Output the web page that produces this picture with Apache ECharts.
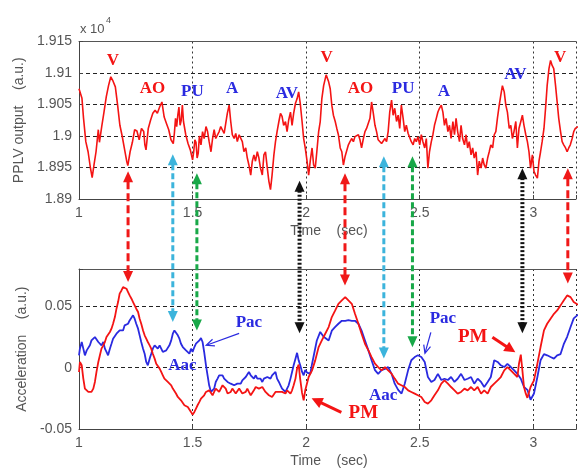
<!DOCTYPE html>
<html><head><meta charset="utf-8">
<script src="https://cdn.jsdelivr.net/npm/echarts@6/dist/echarts.min.js"></script>
<style>html,body{margin:0;padding:0;background:#fff}#c{width:579px;height:468px}</style>
</head><body><div id="c"></div>
<script>
// ---------- data ----------
const xTicks = [1, 1.5, 2, 2.5, 3];
const topTicks = [1.89, 1.895, 1.9, 1.905, 1.91, 1.915];
const accTicks = [-0.05, 0, 0.05];

const pplv = [[1.000,1.9075],[1.007,1.9073],[1.013,1.906],[1.02,1.9028],[1.03,1.8991],[1.04,1.8975],[1.05,1.895],[1.058,1.8934],[1.066,1.8954],[1.075,1.8975],[1.085,1.901],[1.09,1.899],[1.1,1.9015],[1.11,1.9038],[1.12,1.9062],[1.13,1.908],[1.14,1.9094],[1.15,1.9087],[1.16,1.9078],[1.17,1.9049],[1.18,1.9017],[1.19,1.9],[1.2,1.898],[1.21,1.896],[1.215,1.8953],[1.225,1.8975],[1.235,1.899],[1.245,1.901],[1.255,1.9008],[1.265,1.8994],[1.275,1.9012],[1.285,1.9007],[1.29,1.8986],[1.295,1.8978],[1.305,1.9012],[1.315,1.9025],[1.325,1.9036],[1.335,1.9041],[1.345,1.9036],[1.355,1.9046],[1.365,1.9054],[1.375,1.903],[1.385,1.902],[1.395,1.901],[1.405,1.8994],[1.415,1.8988],[1.42,1.9005],[1.425,1.9028],[1.43,1.9015],[1.435,1.9033],[1.44,1.9046],[1.445,1.9017],[1.45,1.9025],[1.455,1.9049],[1.46,1.9023],[1.47,1.9002],[1.48,1.8988],[1.49,1.8978],[1.5,1.8962],[1.505,1.8975],[1.51,1.8994],[1.515,1.899],[1.52,1.8965],[1.525,1.8973],[1.53,1.9],[1.537,1.8986],[1.544,1.9007],[1.551,1.8996],[1.559,1.9015],[1.566,1.9007],[1.573,1.8991],[1.581,1.8975],[1.588,1.8996],[1.595,1.901],[1.602,1.8996],[1.61,1.9002],[1.617,1.9007],[1.624,1.9015],[1.632,1.9017],[1.639,1.9004],[1.646,1.902],[1.653,1.9036],[1.661,1.9049],[1.668,1.9023],[1.675,1.9002],[1.683,1.8996],[1.69,1.9004],[1.697,1.8991],[1.705,1.9002],[1.712,1.9004],[1.719,1.8991],[1.726,1.8975],[1.734,1.8981],[1.741,1.8965],[1.748,1.8954],[1.756,1.8938],[1.763,1.896],[1.77,1.897],[1.777,1.896],[1.785,1.8975],[1.792,1.8965],[1.799,1.8949],[1.807,1.8938],[1.814,1.897],[1.821,1.8975],[1.829,1.8949],[1.836,1.8928],[1.843,1.8915],[1.85,1.8938],[1.858,1.897],[1.865,1.8991],[1.872,1.9007],[1.88,1.9023],[1.887,1.9036],[1.894,1.9031],[1.901,1.9017],[1.909,1.9023],[1.916,1.9007],[1.923,1.9025],[1.931,1.9038],[1.938,1.9017],[1.945,1.9036],[1.953,1.9052],[1.96,1.9059],[1.967,1.907],[1.974,1.9052],[1.982,1.9023],[1.989,1.8996],[1.996,1.8981],[2.004,1.896],[2.011,1.8938],[2.018,1.896],[2.026,1.8981],[2.033,1.8954],[2.04,1.8949],[2.047,1.8975],[2.055,1.9007],[2.062,1.9023],[2.069,1.9059],[2.077,1.908],[2.088,1.9097],[2.099,1.9086],[2.106,1.9075],[2.113,1.9049],[2.12,1.9033],[2.128,1.9023],[2.135,1.9012],[2.142,1.9002],[2.15,1.8981],[2.157,1.8975],[2.164,1.8954],[2.171,1.8967],[2.179,1.897],[2.186,1.8986],[2.193,1.8991],[2.201,1.8996],[2.208,1.8991],[2.215,1.8999],[2.223,1.8996],[2.23,1.9002],[2.237,1.8994],[2.244,1.8981],[2.252,1.8996],[2.259,1.9007],[2.266,1.9012],[2.274,1.9015],[2.281,1.9028],[2.288,1.9054],[2.295,1.9038],[2.303,1.9017],[2.31,1.9007],[2.317,1.8994],[2.325,1.8996],[2.332,1.8988],[2.339,1.8991],[2.347,1.8996],[2.354,1.8991],[2.361,1.9007],[2.368,1.9038],[2.376,1.9057],[2.383,1.9033],[2.39,1.9044],[2.398,1.9023],[2.405,1.9033],[2.412,1.9012],[2.419,1.9049],[2.427,1.9028],[2.434,1.9007],[2.441,1.9017],[2.449,1.9004],[2.456,1.9002],[2.463,1.8991],[2.471,1.8986],[2.478,1.8996],[2.485,1.8991],[2.492,1.8999],[2.5,1.8986],[2.507,1.9002],[2.514,1.8991],[2.522,1.8981],[2.529,1.8996],[2.536,1.8949],[2.543,1.8975],[2.551,1.8991],[2.558,1.9002],[2.565,1.9017],[2.573,1.9028],[2.58,1.9038],[2.587,1.9044],[2.595,1.9049],[2.602,1.9038],[2.609,1.9017],[2.616,1.9028],[2.624,1.9007],[2.631,1.9017],[2.638,1.8996],[2.646,1.9023],[2.653,1.9002],[2.66,1.9028],[2.667,1.9007],[2.675,1.8991],[2.682,1.9017],[2.689,1.8996],[2.697,1.8986],[2.704,1.9002],[2.711,1.8981],[2.718,1.8991],[2.726,1.897],[2.733,1.8981],[2.74,1.8965],[2.748,1.8975],[2.755,1.8938],[2.762,1.896],[2.77,1.8949],[2.777,1.8965],[2.784,1.8954],[2.791,1.8949],[2.799,1.8965],[2.806,1.8975],[2.813,1.8986],[2.821,1.8981],[2.828,1.9002],[2.835,1.9007],[2.842,1.9028],[2.85,1.9049],[2.857,1.9065],[2.864,1.908],[2.872,1.907],[2.879,1.9049],[2.886,1.9038],[2.894,1.9012],[2.901,1.9017],[2.908,1.8996],[2.915,1.9007],[2.923,1.9023],[2.93,1.8981],[2.937,1.9012],[2.945,1.9023],[2.952,1.9033],[2.959,1.9017],[2.967,1.9002],[2.974,1.8991],[2.981,1.8975],[2.988,1.8949],[2.996,1.897],[3.003,1.8944],[3.01,1.8938],[3.018,1.8933],[3.025,1.896],[3.032,1.8975],[3.039,1.8991],[3.047,1.9012],[3.054,1.9044],[3.061,1.908],[3.069,1.9107],[3.076,1.912],[3.083,1.9112],[3.09,1.9107],[3.098,1.908],[3.105,1.9054],[3.112,1.9028],[3.12,1.9007],[3.127,1.8991],[3.134,1.8986],[3.142,1.8981],[3.149,1.8975],[3.156,1.8981],[3.163,1.8986],[3.171,1.8996],[3.178,1.9007],[3.185,1.9012],[3.197,1.9015]];

const accRed = [[1.0,-0.0035],[1.004,0.0046],[1.012,0.0019],[1.019,-0.0089],[1.026,-0.017],[1.034,-0.0184],[1.041,-0.0197],[1.048,-0.021],[1.055,-0.0197],[1.063,-0.017],[1.07,-0.0116],[1.077,-0.0035],[1.085,0.0046],[1.092,0.01],[1.099,0.0154],[1.107,0.0181],[1.114,0.0208],[1.121,0.0248],[1.128,0.0262],[1.136,0.0289],[1.143,0.0316],[1.15,0.0356],[1.158,0.041],[1.165,0.0478],[1.172,0.0532],[1.179,0.06],[1.187,0.0626],[1.194,0.0653],[1.201,0.0662],[1.209,0.064],[1.216,0.0613],[1.223,0.0586],[1.231,0.0559],[1.238,0.0532],[1.245,0.0505],[1.252,0.0478],[1.26,0.0451],[1.267,0.0397],[1.274,0.0356],[1.282,0.0302],[1.289,0.0262],[1.296,0.0235],[1.303,0.0208],[1.311,0.0181],[1.318,0.0154],[1.325,0.0113],[1.333,0.0073],[1.34,0.0032],[1.347,0.0019],[1.355,-0.0008],[1.362,-0.0035],[1.369,-0.0062],[1.376,-0.0089],[1.384,-0.0103],[1.391,-0.0116],[1.398,-0.013],[1.406,-0.0143],[1.413,-0.017],[1.42,-0.0184],[1.427,-0.021],[1.435,-0.0238],[1.442,-0.0251],[1.449,-0.0265],[1.457,-0.0278],[1.464,-0.0305],[1.471,-0.0292],[1.479,-0.0319],[1.486,-0.0332],[1.493,-0.0359],[1.5,-0.0381],[1.508,-0.0359],[1.515,-0.0332],[1.522,-0.0305],[1.53,-0.0278],[1.537,-0.0251],[1.544,-0.0251],[1.551,-0.0224],[1.559,-0.0197],[1.566,-0.021],[1.573,-0.0184],[1.581,-0.0197],[1.588,-0.0224],[1.595,-0.0197],[1.602,-0.017],[1.61,-0.0157],[1.617,-0.0197],[1.624,-0.0184],[1.632,-0.0143],[1.639,-0.0157],[1.646,-0.017],[1.654,-0.021],[1.661,-0.0224],[1.668,-0.0197],[1.675,-0.017],[1.683,-0.0184],[1.69,-0.021],[1.697,-0.0197],[1.705,-0.017],[1.712,-0.0184],[1.719,-0.021],[1.726,-0.0224],[1.734,-0.0197],[1.741,-0.017],[1.748,-0.0197],[1.756,-0.0224],[1.763,-0.021],[1.77,-0.0184],[1.778,-0.0157],[1.785,-0.0143],[1.792,-0.017],[1.799,-0.0184],[1.807,-0.0157],[1.814,-0.017],[1.821,-0.0197],[1.829,-0.021],[1.836,-0.0224],[1.843,-0.0238],[1.85,-0.0238],[1.858,-0.0224],[1.865,-0.0197],[1.872,-0.0184],[1.88,-0.0197],[1.887,-0.0184],[1.894,-0.0197],[1.902,-0.021],[1.909,-0.021],[1.916,-0.0184],[1.923,-0.0197],[1.931,-0.021],[1.938,-0.0184],[1.945,-0.0143],[1.953,-0.0089],[1.96,-0.0008],[1.967,0.0025],[1.974,-0.0095],[1.982,-0.0205],[1.989,-0.0265],[1.996,-0.0184],[2.011,-0.0076],[2.026,-0.0022],[2.04,0.0059],[2.055,0.0167],[2.069,0.0221],[2.084,0.0275],[2.099,0.0329],[2.113,0.041],[2.128,0.0464],[2.142,0.0518],[2.157,0.0545],[2.172,0.0572],[2.186,0.0545],[2.201,0.0518],[2.215,0.0437],[2.23,0.0356],[2.244,0.0275],[2.259,0.0194],[2.274,0.014],[2.288,0.0086],[2.303,0.0032],[2.317,0.0005],[2.332,-0.0022],[2.347,0.0005],[2.361,-0.0022],[2.376,-0.0049],[2.39,-0.0089],[2.405,-0.013],[2.419,-0.0143],[2.434,-0.0157],[2.449,-0.0184],[2.463,-0.0197],[2.478,-0.0211],[2.492,-0.0224],[2.507,-0.0238],[2.522,-0.0278],[2.536,-0.0292],[2.551,-0.0265],[2.565,-0.0224],[2.58,-0.0184],[2.595,-0.013],[2.609,-0.0103],[2.624,-0.013],[2.638,-0.0157],[2.653,-0.0184],[2.667,-0.0211],[2.682,-0.0197],[2.697,-0.017],[2.711,-0.0184],[2.726,-0.0157],[2.74,-0.0184],[2.755,-0.0157],[2.77,-0.0211],[2.784,-0.0184],[2.799,-0.0211],[2.813,-0.0157],[2.828,-0.013],[2.843,-0.0103],[2.857,-0.0076],[2.872,-0.0022],[2.886,0.0005],[2.901,-0.0022],[2.915,-0.0049],[2.93,-0.0076],[2.937,0.0032],[2.945,0.0105],[2.952,-0.0022],[2.959,-0.0157],[2.967,-0.0211],[2.974,-0.0245],[2.988,-0.0157],[3.003,-0.0103],[3.018,0.0032],[3.032,0.0167],[3.047,0.0302],[3.061,0.0356],[3.076,0.0397],[3.091,0.0437],[3.105,0.0464],[3.12,0.0505],[3.134,0.0545],[3.149,0.0586],[3.164,0.0572],[3.178,0.0532],[3.197,0.051]];

const accBlue = [[1.0,0.01],[1.004,0.0154],[1.012,0.0208],[1.019,0.0154],[1.026,0.01],[1.034,0.014],[1.041,0.0127],[1.048,0.0181],[1.055,0.0221],[1.063,0.0235],[1.07,0.0248],[1.077,0.0235],[1.085,0.0208],[1.092,0.0221],[1.099,0.0181],[1.107,0.0208],[1.114,0.0154],[1.121,0.0127],[1.128,0.01],[1.136,0.0154],[1.143,0.0194],[1.15,0.0235],[1.158,0.0248],[1.165,0.0275],[1.172,0.0262],[1.179,0.0302],[1.187,0.0316],[1.194,0.0302],[1.201,0.0343],[1.209,0.0329],[1.216,0.0356],[1.223,0.0383],[1.231,0.0397],[1.238,0.0424],[1.245,0.0397],[1.252,0.0356],[1.26,0.0316],[1.267,0.0262],[1.274,0.0208],[1.282,0.0154],[1.289,0.0113],[1.296,0.0046],[1.303,0.0019],[1.311,0.0073],[1.318,0.0113],[1.325,0.0154],[1.333,0.0181],[1.34,0.0167],[1.347,0.0154],[1.355,0.0181],[1.362,0.0154],[1.369,0.0127],[1.376,0.0113],[1.384,0.014],[1.391,0.0154],[1.398,0.0181],[1.406,0.0221],[1.413,0.0275],[1.42,0.0302],[1.427,0.0289],[1.435,0.0262],[1.442,0.0235],[1.449,0.0194],[1.457,0.0167],[1.464,0.0154],[1.471,0.014],[1.479,0.0127],[1.486,0.0113],[1.493,0.0154],[1.5,0.0127],[1.508,0.0167],[1.515,0.0194],[1.522,0.0208],[1.53,0.0221],[1.537,0.024],[1.544,0.0208],[1.551,0.0127],[1.559,0.0019],[1.566,-0.0062],[1.573,-0.0143],[1.581,-0.0197],[1.588,-0.021],[1.595,-0.017],[1.602,-0.0116],[1.61,-0.0089],[1.617,-0.0062],[1.624,-0.0049],[1.632,-0.0062],[1.639,-0.0089],[1.646,-0.0103],[1.654,-0.0116],[1.661,-0.0103],[1.668,-0.013],[1.675,-0.0116],[1.683,-0.0143],[1.69,-0.0157],[1.697,-0.013],[1.705,-0.0116],[1.712,-0.013],[1.719,-0.0103],[1.726,-0.0116],[1.734,-0.0076],[1.741,-0.0062],[1.748,-0.0035],[1.756,-0.0062],[1.763,-0.0076],[1.77,-0.0089],[1.778,-0.0062],[1.785,-0.0089],[1.792,-0.0103],[1.799,-0.0089],[1.807,-0.0116],[1.814,-0.0089],[1.821,-0.0103],[1.829,-0.0076],[1.836,-0.0062],[1.843,-0.0089],[1.85,-0.0062],[1.858,-0.0049],[1.865,-0.0035],[1.872,-0.0089],[1.88,-0.0116],[1.887,-0.0143],[1.894,-0.017],[1.902,-0.0184],[1.909,-0.0197],[1.916,-0.0184],[1.923,-0.0143],[1.931,-0.0089],[1.938,-0.0035],[1.945,0.0019],[1.953,0.0073],[1.96,0.012],[1.967,0.0059],[1.974,0.0019],[1.982,-0.0035],[1.989,-0.0062],[1.996,-0.002],[2.004,-0.004],[2.018,-0.005],[2.026,0.003],[2.047,0.022],[2.062,0.029],[2.077,0.025],[2.099,0.022],[2.113,0.03],[2.128,0.033],[2.142,0.0356],[2.157,0.038],[2.172,0.038],[2.186,0.0385],[2.201,0.038],[2.215,0.038],[2.23,0.0356],[2.244,0.03],[2.259,0.022],[2.274,0.014],[2.288,0.006],[2.303,-0.002],[2.317,-0.005],[2.332,-0.002],[2.347,-0.001],[2.361,0.0005],[2.376,-0.005],[2.39,-0.013],[2.405,-0.018],[2.42,-0.021],[2.434,-0.013],[2.449,-0.002],[2.463,0.006],[2.478,0.0086],[2.492,0.01],[2.507,0.0086],[2.522,0.0046],[2.536,-0.0076],[2.551,-0.0116],[2.565,-0.01],[2.58,-0.005],[2.595,-0.01],[2.609,-0.009],[2.624,-0.01],[2.638,-0.0076],[2.653,-0.0116],[2.667,-0.009],[2.682,-0.005],[2.697,-0.01],[2.711,-0.009],[2.726,-0.0076],[2.74,-0.013],[2.755,-0.009],[2.77,-0.0116],[2.784,-0.0157],[2.799,-0.0116],[2.813,-0.0076],[2.828,0.006],[2.843,0.0046],[2.857,0.0019],[2.872,0.0005],[2.886,0.003],[2.901,0.0005],[2.915,-0.002],[2.93,-0.005],[2.945,-0.009],[2.959,-0.0157],[2.974,-0.018],[2.988,-0.026],[3.003,-0.021],[3.018,-0.0076],[3.032,0.006],[3.047,0.011],[3.061,0.01],[3.076,0.0086],[3.091,0.0073],[3.105,0.01],[3.12,0.011],[3.134,0.019],[3.149,0.025],[3.164,0.033],[3.178,0.04],[3.197,0.043]];

// annotation anchors (data units)
const topLabels = ['V','AO','PU','A','AV','V','AO','PU','A','AV','V'];
const topLabelT = [1.149,1.324,1.499,1.674,1.915,2.090,2.239,2.427,2.606,2.921,3.118];
const topLabelV = [1.9119,1.9076,1.9071,1.9076,1.9068,1.9124,1.9075,1.9075,1.907,1.9097,1.9124];
const accLabels = ['Pac','Aac','Pac','Aac','PM','PM'];
const accLabelT = [1.748,1.455,2.602,2.339,2.252,2.733];
const accLabelV = [0.0367,0.0019,0.040,-0.0224,-0.037,0.0246];
const ptrFromT = [1.705,2.549,2.155,2.82];
const ptrFromV = [0.0278,0.0286,-0.0362,0.0246];
const ptrToT = [1.560,2.523,2.024,2.921];
const ptrToV = [0.0181,0.0116,-0.0249,0.0124];
const linkT = [1.216,1.413,1.519,1.971,2.171,2.342,2.468,2.952,3.152];
const linkTopV = [1.8944,1.8971,1.8941,1.8929,1.8941,1.8968,1.8968,1.8949,1.8949];
const linkAccV = [0.0694,0.037,0.0302,0.0278,0.0667,0.0075,0.0165,0.0278,0.0683];
const linkKind = ['red','cyan','green','black','red','cyan','green','black','red'];

// ---------- styles ----------
const XMAX = 3.188;
const SANS = '"Liberation Sans", Arial, sans-serif';
const SERIF = '"Liberation Serif", "Times New Roman", serif';
const RED = '#f41414', BLUE = '#2a2ae0';
const labelColor = {V:RED, AO:RED, PU:BLUE, A:BLUE, AV:BLUE, Pac:BLUE, Aac:BLUE, PM:RED};
const kindStyle = {
  red:{color:'#f01818', dash:[8,4], w:3},
  cyan:{color:'#3cb4dc', dash:[6,3], w:3},
  green:{color:'#18a848', dash:[6,3], w:3},
  black:{color:'#111', dash:[2,2], w:4}
};
const fmt3 = v => String(+(+v).toFixed(4));
const inList = (list, v) => list.some(t => Math.abs(t - v) < 1e-6);

const chart = echarts.init(document.getElementById('c'), null, {renderer:'canvas'});

function xAxisCfg(i){
  return {type:'value', gridIndex:i, min:1, max:XMAX, interval:0.5,
    axisLine:{show:true, onZero:false, lineStyle:{color:'#444', width:1}},
    axisTick:{show:true, inside:true, length:4, lineStyle:{color:'#444'}},
    axisLabel:{color:'#555', fontSize:14, fontFamily:SANS, margin:7,
      formatter: v => inList(xTicks, v) ? fmt3(v) : ''},
    splitLine:{show:true, lineStyle:{type:[2,3], color:'#333', width:1}}};
}
function xTopCfg(i){
  return {type:'value', gridIndex:i, position:'top', min:1, max:XMAX,
    axisLine:{show:true, onZero:false, lineStyle:{color:'#555', width:1}},
    axisTick:{show:false}, axisLabel:{show:false}, splitLine:{show:false}};
}
function yAxisCfg(i, min, max, interval, ticks, name){
  return {type:'value', gridIndex:i, min:min, max:max, interval:interval,
    axisLine:{show:true, lineStyle:{color:'#444', width:1}},
    axisTick:{show:true, inside:true, length:4, lineStyle:{color:'#444'}},
    axisLabel:{color:'#555', fontSize:14, fontFamily:SANS, margin:7,
      formatter: v => inList(ticks, v) ? fmt3(v) : ''},
    splitLine:{show:true, lineStyle:{type:[4,3], color:'#222', width:1}},
    name:name, nameLocation:'middle', nameRotate:90, nameGap:50,
    nameTextStyle:{color:'#555', fontSize:14, fontFamily:SANS}};
}

chart.setOption({
  animation:false,
  backgroundColor:'#fff',
  grid:[
    {left:79, top:41.5, right:0, height:157.5},
    {left:79, top:269, right:0, height:160.3}
  ],
  xAxis:[xAxisCfg(0), xAxisCfg(1), xTopCfg(0), xTopCfg(1)],
  yAxis:[
    yAxisCfg(0, 1.89, 1.915, 0.005, topTicks, 'PPLV output    (a.u.)'),
    yAxisCfg(1, -0.05, 0.08, 0.05, accTicks, 'Acceleration    (a.u.)')
  ],
  series:[
    {type:'line', xAxisIndex:0, yAxisIndex:0, data:pplv, showSymbol:false, lineStyle:{color:RED, width:1.6}, z:3},
    {type:'line', xAxisIndex:1, yAxisIndex:1, data:accBlue, showSymbol:false, lineStyle:{color:BLUE, width:1.8}, z:3},
    {type:'line', xAxisIndex:1, yAxisIndex:1, data:accRed, showSymbol:false, lineStyle:{color:RED, width:1.8}, z:4}
  ]
});

// ---------- annotations placed through the axes ----------
const P0 = (t, v) => chart.convertToPixel({gridIndex:0}, [t, v]);
const P1 = (t, v) => chart.convertToPixel({gridIndex:1}, [t, v]);
const g = [];

g.push({type:'text', x:80, y:23, style:{text:'x 10', fill:'#555', font:'13px ' + SANS}});
g.push({type:'text', x:106, y:16, style:{text:'4', fill:'#555', font:'9px ' + SANS}});

// axis titles "Time (sec)"
[P0(1, 1.89), P1(1, -0.05)].forEach(p => {
  g.push({type:'text', z:40, x:329, y:p[1] + 32, style:{text:'Time    (sec)', fill:'#555', font:'14px ' + SANS, textAlign:'center', textVerticalAlign:'middle'}});
});

function headPts(xt, yt, dx, dy, len, wid){
  const L = Math.hypot(dx, dy), ux = dx / L, uy = dy / L;
  const bx = xt - ux * len, by = yt - uy * len;
  return [[xt, yt], [bx - uy * wid / 2, by + ux * wid / 2], [bx + uy * wid / 2, by - ux * wid / 2]];
}

linkT.forEach((t, i) => {
  const s = kindStyle[linkKind[i]];
  const a = P0(t, linkTopV[i]), b = P1(t, linkAccV[i]);
  const x = a[0], y1 = a[1], y2 = b[1], hl = 11, hw = 10;
  g.push({type:'line', z:50, shape:{x1:x, y1:y1 + hl - 1, x2:x, y2:y2 - hl + 1},
    style:{stroke:s.color, lineWidth:s.w, lineDash:s.dash}});
  g.push({type:'polygon', z:51, shape:{points:headPts(x, y1, 0, -1, hl, hw)}, style:{fill:s.color}});
  g.push({type:'polygon', z:51, shape:{points:headPts(x, y2, 0, 1, hl, hw)}, style:{fill:s.color}});
});

topLabels.forEach((txt, i) => {
  const p = P0(topLabelT[i], topLabelV[i]);
  g.push({type:'text', z:60, x:p[0], y:p[1], style:{text:txt, fill:labelColor[txt],
    font:'bold 17px ' + SERIF, textAlign:'center', textVerticalAlign:'middle'}});
});
accLabels.forEach((txt, i) => {
  const p = P1(accLabelT[i], accLabelV[i]);
  const size = txt === 'PM' ? 19 : 17;
  g.push({type:'text', z:60, x:p[0], y:p[1], style:{text:txt, fill:labelColor[txt],
    font:'bold ' + size + 'px ' + SERIF, textAlign:'center', textVerticalAlign:'middle'}});
});
ptrFromT.forEach((t, i) => {
  const a = P1(t, ptrFromV[i]), b = P1(ptrToT[i], ptrToV[i]);
  const isRed = i >= 2;
  const col = isRed ? RED : BLUE;
  const hl = isRed ? 11 : 8, hw = isRed ? 11 : 7;
  const dx = b[0] - a[0], dy = b[1] - a[1], L = Math.hypot(dx, dy);
  g.push({type:'line', z:55, shape:{x1:a[0], y1:a[1], x2:b[0] - dx / L * (isRed ? hl - 2 : 1), y2:b[1] - dy / L * (isRed ? hl - 2 : 1)},
    style:{stroke:col, lineWidth:isRed ? 3 : 1.2}});
  if (isRed) {
    g.push({type:'polygon', z:56, shape:{points:headPts(b[0], b[1], dx, dy, hl, hw)}, style:{fill:col}});
  } else {
    const pts = headPts(b[0], b[1], dx, dy, hl, hw);
    g.push({type:'polyline', z:56, shape:{points:[pts[1], pts[0], pts[2]]}, style:{stroke:col, lineWidth:1.2, fill:null}});
  }
});

chart.setOption({graphic:g});
</script>
</body></html>
